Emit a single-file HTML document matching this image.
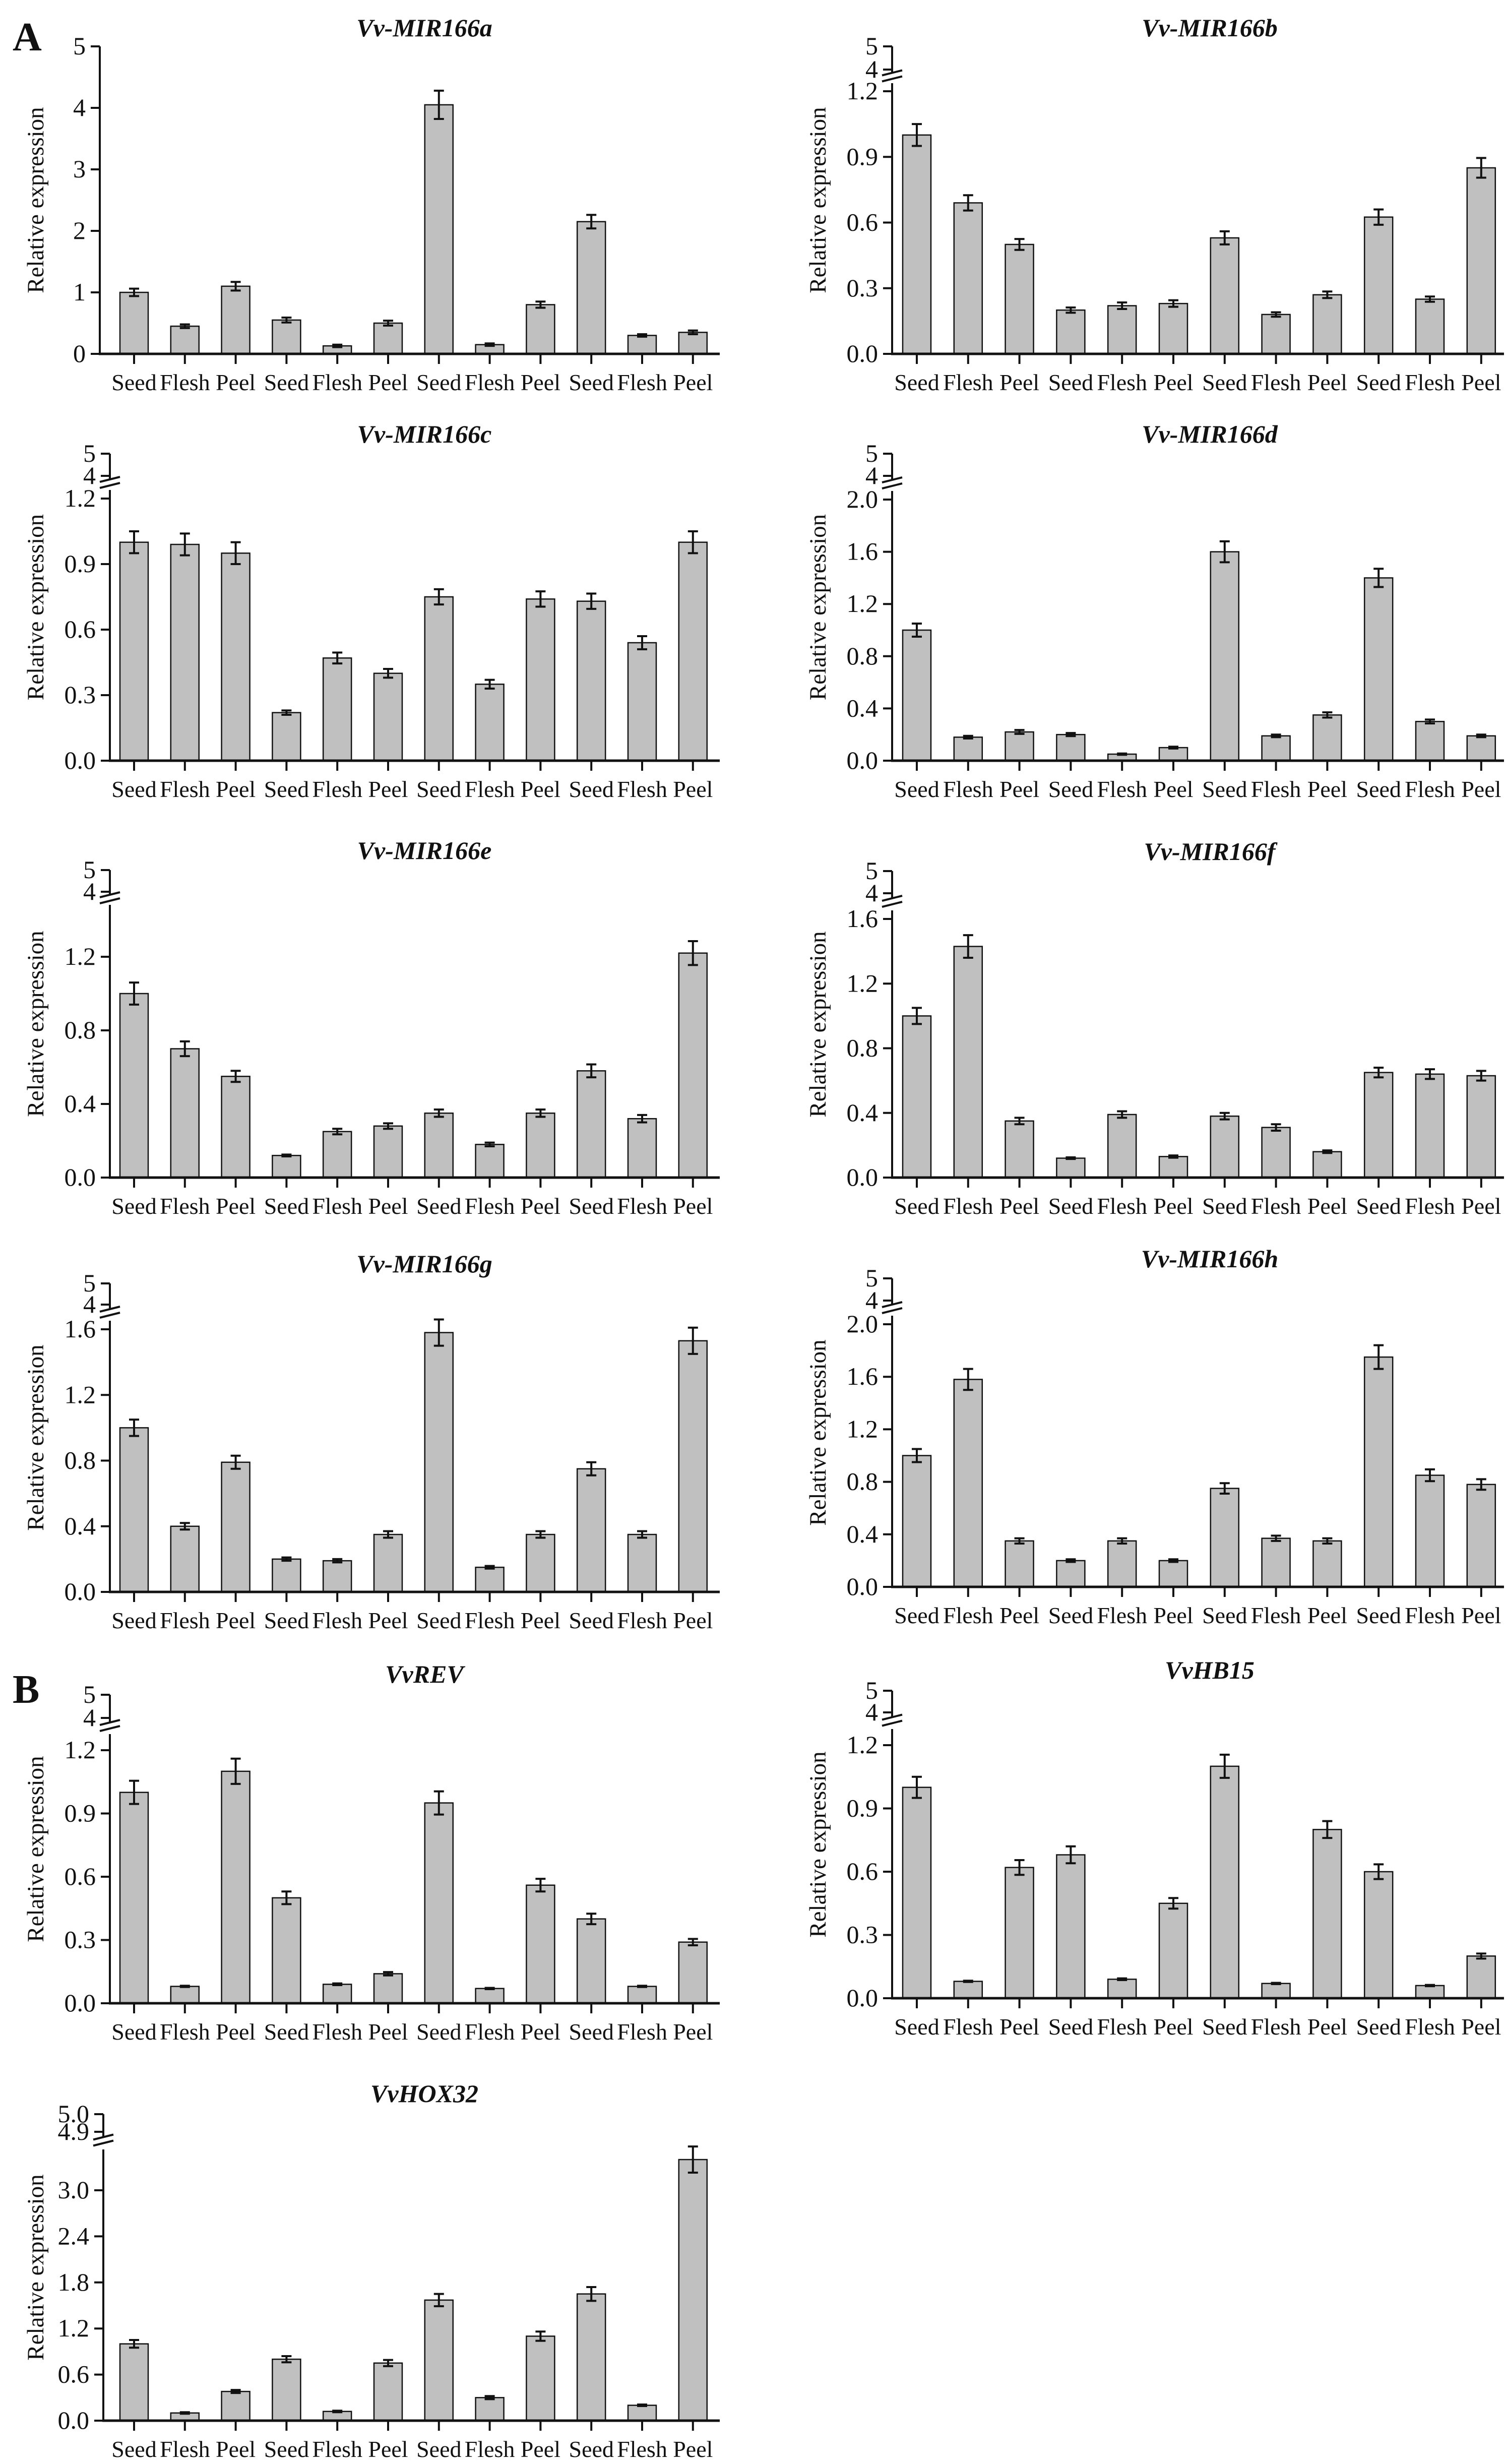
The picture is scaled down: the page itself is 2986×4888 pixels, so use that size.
<!DOCTYPE html>
<html><head><meta charset="utf-8">
<style>
html,body{margin:0;padding:0;background:#fff;}
svg{display:block;}
svg text{fill:#111;font-family:"Liberation Serif","Times New Roman",serif;}
svg text.ttl{font-weight:bold;font-style:italic;}
</style></head>
<body>
<svg id="fig" width="2986" height="4888" viewBox="0 0 2986 4888" xmlns="http://www.w3.org/2000/svg"></svg>
<script>
// ---- data ----
const categories = ["Seed","Flesh","Peel","Seed","Flesh","Peel","Seed","Flesh","Peel","Seed","Flesh","Peel"];
const valsA = [1.0,0.45,1.1,0.55,0.13,0.5,4.05,0.15,0.8,2.15,0.3,0.35];
const errA  = [0.06,0.03,0.07,0.04,0.02,0.04,0.23,0.02,0.05,0.11,0.02,0.03];
const valsB = [1.0,0.69,0.5,0.2,0.22,0.23,0.53,0.18,0.27,0.625,0.25,0.85];
const errB  = [0.05,0.035,0.025,0.012,0.015,0.015,0.03,0.01,0.015,0.035,0.012,0.045];
const valsC = [1.0,0.99,0.95,0.22,0.47,0.4,0.75,0.35,0.74,0.73,0.54,1.0];
const errC  = [0.05,0.05,0.05,0.01,0.025,0.02,0.035,0.02,0.035,0.035,0.03,0.05];
const valsD = [1.0,0.18,0.22,0.2,0.05,0.1,1.6,0.19,0.35,1.4,0.3,0.19];
const errD  = [0.05,0.01,0.015,0.012,0.005,0.007,0.08,0.01,0.02,0.07,0.015,0.01];
const valsE = [1.0,0.7,0.55,0.12,0.25,0.28,0.35,0.18,0.35,0.58,0.32,1.22];
const errE  = [0.06,0.04,0.03,0.005,0.015,0.015,0.02,0.01,0.02,0.035,0.02,0.065];
const valsF = [1.0,1.43,0.35,0.12,0.39,0.13,0.38,0.31,0.16,0.65,0.64,0.63];
const errF  = [0.05,0.07,0.02,0.005,0.02,0.007,0.02,0.02,0.008,0.03,0.03,0.03];
const valsG = [1.0,0.4,0.79,0.2,0.19,0.35,1.58,0.15,0.35,0.75,0.35,1.53];
const errG  = [0.05,0.02,0.04,0.01,0.01,0.02,0.08,0.008,0.02,0.04,0.02,0.08];
const valsH = [1.0,1.58,0.35,0.2,0.35,0.2,0.75,0.37,0.35,1.75,0.85,0.78];
const errH  = [0.05,0.08,0.02,0.01,0.02,0.01,0.04,0.02,0.02,0.09,0.045,0.04];
const valsREV = [1.0,0.08,1.1,0.5,0.09,0.14,0.95,0.07,0.56,0.4,0.08,0.29];
const errREV  = [0.055,0.003,0.06,0.03,0.004,0.008,0.055,0.003,0.03,0.025,0.003,0.015];
const valsHB15 = [1.0,0.08,0.62,0.68,0.09,0.45,1.1,0.07,0.8,0.6,0.06,0.2];
const errHB15  = [0.05,0.003,0.035,0.04,0.004,0.025,0.055,0.003,0.04,0.035,0.003,0.012];
const valsHOX32 = [1.0,0.1,0.38,0.8,0.12,0.75,1.57,0.3,1.1,1.65,0.2,3.4];
const errHOX32  = [0.05,0.01,0.02,0.04,0.01,0.04,0.08,0.02,0.06,0.09,0.01,0.17];
const ticks5 = [0,1,2,3,4,5];
const ticks12 = [0,0.3,0.6,0.9,1.2];
const ticks16 = [0,0.4,0.8,1.2,1.6];
const ticks20 = [0,0.4,0.8,1.2,1.6,2.0];
const ticks30 = [0,0.6,1.2,1.8,2.4,3.0];
const upperLabels = ["5","4"];
const upperLabelsHOX = ["5.0","4.9"];

// ---- layout ----
const svg = document.getElementById('fig');
const NS = 'http://www.w3.org/2000/svg';
function mk(tag, attrs, parent){
  const e = document.createElementNS(NS, tag);
  for (const k in attrs) e.setAttribute(k, attrs[k]);
  (parent||svg).appendChild(e);
  return e;
}
const L = {ax:218, b0:266, step:100.8, end:1428, ylab:70, tx:842};
const R = {ax:1770, b0:1819, step:101.8, end:2984, ylab:1622, tx:2400};

const charts = [
 {id:'mir166a', title:'Vv-MIR166a', s:L, ax:198, vals:valsA, errs:errA, ticks:ticks5, dec:0, zero:702, top:92, max:5, upper:null, titleY:56},
 {id:'mir166b', title:'Vv-MIR166b', s:R, vals:valsB, errs:errB, ticks:ticks12, dec:1, zero:702, top:181, max:1.2, upper:[92,138], lowTop:165, titleY:56},
 {id:'mir166c', title:'Vv-MIR166c', s:L, vals:valsC, errs:errC, ticks:ticks12, dec:1, zero:1509, top:989, max:1.2, upper:[900,944], lowTop:972, titleY:862},
 {id:'mir166d', title:'Vv-MIR166d', s:R, vals:valsD, errs:errD, ticks:ticks20, dec:1, zero:1509, top:991, max:2.0, upper:[900,944], lowTop:974, titleY:862},
 {id:'mir166e', title:'Vv-MIR166e', s:L, vals:valsE, errs:errE, ticks:[0,0.4,0.8,1.2], dec:1, zero:2336, top:1898, max:1.2, upper:[1726,1769], lowTop:1795, titleY:1688},
 {id:'mir166f', title:'Vv-MIR166f', s:R, vals:valsF, errs:errF, ticks:ticks16, dec:1, zero:2336, top:1823, max:1.6, upper:[1728,1772], lowTop:1806, titleY:1690},
 {id:'mir166g', title:'Vv-MIR166g', s:L, vals:valsG, errs:errG, ticks:ticks16, dec:1, zero:3158, top:2637, max:1.6, upper:[2546,2588], lowTop:2620, titleY:2508},
 {id:'mir166h', title:'Vv-MIR166h', s:R, vals:valsH, errs:errH, ticks:ticks20, dec:1, zero:3148, top:2627, max:2.0, upper:[2536,2580], lowTop:2610, titleY:2498},
 {id:'vvrev', title:'VvREV', s:L, vals:valsREV, errs:errREV, ticks:ticks12, dec:1, zero:3974, top:3472, max:1.2, upper:[3362,3408], lowTop:3440, titleY:3322},
 {id:'vvhb15', title:'VvHB15', s:R, vals:valsHB15, errs:errHB15, ticks:ticks12, dec:1, zero:3964, top:3462, max:1.2, upper:[3354,3397], lowTop:3430, titleY:3314},
 {id:'vvhox32', title:'VvHOX32', s:L, ax:205, vals:valsHOX32, errs:errHOX32, ticks:ticks30, dec:1, zero:4802, top:4345, max:3.0, upper:[4194,4229], lowTop:4264, upperText:upperLabelsHOX, titleY:4154}
];

function drawChart(c){
  const s = c.s;
  const ax = c.ax || s.ax;
  const g = mk('g', {});
  
  
  const ppu = (c.zero - c.top) / c.max;
  const y = v => c.zero - v * ppu;
  const x = i => s.b0 + i * s.step;
  const bw = 56;

  const t = mk('text', {x:s.tx, y:c.titleY + 16, 'text-anchor':'middle', 'font-size':50, 'class':'ttl'}, g);
  t.textContent = c.title;
  
  

  const cy = (c.zero + (c.upper ? c.upper[0] : c.top)) / 2;
  const yl = mk('text', {x:0, y:0, transform:`translate(${s.ylab + 16},${cy}) rotate(-90)`, 'text-anchor':'middle', 'font-size':47}, g);
  yl.textContent = 'Relative expression';
  
  

  c.vals.forEach((v, i) => {
    const r = mk('rect', {x:x(i) - bw/2, y:y(v), width:bw, height:c.zero - y(v), fill:'#c0c0c0', stroke:'#111', 'stroke-width':2.5}, g);
    
    
    const e = c.errs[i];
    const eg = mk('g', {stroke:'#111', 'stroke-width':4, fill:'none'}, g);
    
    
    mk('line', {x1:x(i), x2:x(i), y1:y(v + e), y2:y(v - e)}, eg);
    mk('line', {x1:x(i) - 10, x2:x(i) + 10, y1:y(v + e), y2:y(v + e)}, eg);
    mk('line', {x1:x(i) - 10, x2:x(i) + 10, y1:y(v - e), y2:y(v - e)}, eg);
  });

  const yaxTop = c.upper ? c.lowTop : c.top;
  const ya = mk('line', {x1:ax, x2:ax, y1:yaxTop, y2:c.zero + 2, stroke:'#111', 'stroke-width':4}, g);
  
  
  c.ticks.forEach(tv => {
    mk('line', {x1:ax - 18, x2:ax, y1:y(tv), y2:y(tv), stroke:'#111', 'stroke-width':4}, g);
    const tl = mk('text', {x:ax - 28, y:y(tv) + 16, 'text-anchor':'end', 'font-size':50}, g);
    tl.textContent = tv.toFixed(c.dec);
    
    
  });
  if (c.upper){
    const labs = c.upperText || upperLabels;
    const brk = (c.upper[1] + c.lowTop) / 2;
    mk('line', {x1:ax, x2:ax, y1:c.upper[0], y2:brk - 6, stroke:'#111', 'stroke-width':4}, g);
    c.upper.forEach((uy, k) => {
      mk('line', {x1:ax - 18, x2:ax, y1:uy, y2:uy, stroke:'#111', 'stroke-width':4}, g);
      const ul = mk('text', {x:ax - 28, y:uy + 16, 'text-anchor':'end', 'font-size':50}, g);
      ul.textContent = labs[k];
      
      
    });
    const bk = mk('g', {stroke:'#111', 'stroke-width':4}, g);
    
    
    mk('line', {x1:ax - 20, x2:ax + 20, y1:brk - 2, y2:brk - 12}, bk);
    mk('line', {x1:ax - 20, x2:ax + 20, y1:brk + 10, y2:brk}, bk);
  }

  const xa = mk('line', {x1:ax - 2, x2:s.end, y1:c.zero, y2:c.zero, stroke:'#111', 'stroke-width':5}, g);
  
  
  categories.forEach((cat, i) => {
    mk('line', {x1:x(i), x2:x(i), y1:c.zero, y2:c.zero + 20, stroke:'#111', 'stroke-width':4}, g);
    const xl = mk('text', {x:x(i), y:c.zero + 72, 'text-anchor':'middle', 'font-size':46}, g);
    xl.textContent = cat;
    
    
  });
}
charts.forEach(drawChart);

const pa = mk('text', {x:25, y:100, 'font-size':80, 'font-weight':'bold'});
pa.textContent = 'A';


const pb = mk('text', {x:25, y:3378, 'font-size':80, 'font-weight':'bold'});
pb.textContent = 'B';


</script>
</body></html>
